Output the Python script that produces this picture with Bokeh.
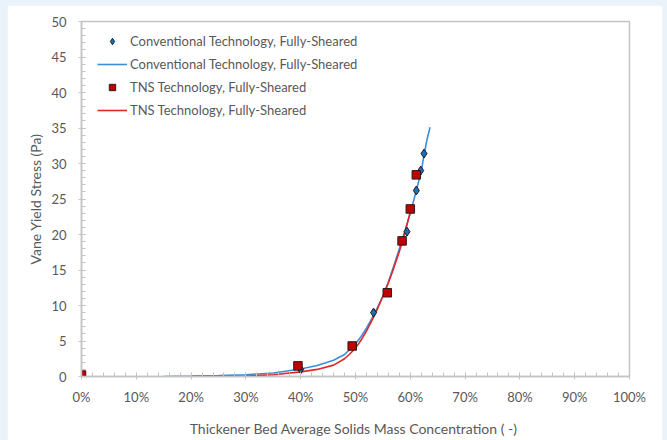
from bokeh.plotting import figure
from bokeh.layouts import column
from bokeh.models import (Range1d, SingleIntervalTicker, NumeralTickFormatter,
                          Legend, LegendItem)
from bokeh.embed import file_html
from bokeh.resources import INLINE

# Measured data points
conv_x = [0.0, 0.400, 0.533, 0.594, 0.611, 0.619, 0.625]
conv_y = [0.0, 1.0, 9.0, 20.4, 26.2, 29.0, 31.4]

tns_x = [0.0, 0.395, 0.494, 0.558, 0.585, 0.600, 0.611]
tns_y = [0.2, 1.5, 4.3, 11.8, 19.1, 23.6, 28.4]

# Fitted curves
conv_fit_x = [0.15, 0.20, 0.25, 0.30, 0.35, 0.40, 0.43, 0.46, 0.48, 0.50, 0.51,
              0.52, 0.53, 0.54, 0.55, 0.56, 0.57, 0.58, 0.59, 0.60, 0.61, 0.62,
              0.625, 0.63, 0.636]
conv_fit_y = [0.0, 0.05, 0.12, 0.25, 0.5, 1.05, 1.55, 2.3, 3.1, 4.6, 5.6,
              6.8, 8.2, 9.7, 11.3, 13.3, 15.6, 18.0, 20.5, 23.0, 25.9, 28.9,
              31.2, 33.2, 35.1]

tns_fit_x = [0.20, 0.30, 0.35, 0.40, 0.43, 0.46, 0.48, 0.49, 0.50, 0.51, 0.52,
             0.53, 0.54, 0.55, 0.56, 0.57, 0.58, 0.59, 0.60, 0.603]
tns_fit_y = [0.0, 0.08, 0.25, 0.65, 1.0, 1.6, 2.5, 3.2, 4.0, 5.1, 6.4,
             7.9, 9.5, 11.3, 13.2, 15.3, 17.6, 20.2, 23.2, 24.0]

labels = ["Conventional Technology, Fully-Sheared",
          "Conventional Technology, Fully-Sheared",
          "TNS Technology, Fully-Sheared",
          "TNS Technology, Fully-Sheared"]

x_title = "Thickener Bed Average Solids Mass Concentration (  -)"
y_title = "Vane Yield Stress (Pa)"

FONT = "Lato"
GRAY = "#595959"
AXIS = "#c4c4c4"

p = figure(width=655, height=435, output_backend="svg", toolbar_location=None,
           x_range=Range1d(0, 1), y_range=Range1d(0, 50),
           min_border_left=74, min_border_right=33,
           min_border_top=16, min_border_bottom=64)
p.margin = (5, 5, 0, 7)
p.background_fill_color = "white"
p.border_fill_color = "white"
p.outline_line_color = AXIS
p.outline_line_width = 1.5
p.xgrid.visible = False
p.ygrid.visible = False

p.xaxis.ticker = SingleIntervalTicker(interval=0.1, num_minor_ticks=5)
p.xaxis.formatter = NumeralTickFormatter(format="0%")
p.yaxis.ticker = SingleIntervalTicker(interval=5, num_minor_ticks=5)

for ax in (p.xaxis[0], p.yaxis[0]):
    ax.axis_line_color = AXIS
    ax.axis_line_width = 1.5
    ax.major_tick_line_color = AXIS
    ax.minor_tick_line_color = AXIS
    ax.major_tick_in = 4
    ax.major_tick_out = 3
    ax.minor_tick_in = 4
    ax.minor_tick_out = 0
    ax.major_label_text_font = FONT
    ax.major_label_text_font_size = "13px"
    ax.major_label_text_color = GRAY
    ax.axis_label_text_font = FONT
    ax.axis_label_text_font_size = "14px"
    ax.axis_label_text_color = GRAY
    ax.axis_label_text_font_style = "normal"

p.xaxis.axis_label = x_title
p.yaxis.axis_label = y_title
p.xaxis.major_label_standoff = 9
p.xaxis.axis_label_standoff = 12
p.yaxis.major_label_standoff = 12
p.yaxis.axis_label_standoff = 4

l_conv = p.line(conv_fit_x, conv_fit_y, line_color="#3a8ed6", line_width=1.6)
l_tns = p.line(tns_fit_x, tns_fit_y, line_color="#e0282a", line_width=1.6)
s_conv = p.scatter(conv_x, conv_y, marker="diamond", size=9,
                   fill_color="#1f6fbf", line_color="#1a1a1a", line_width=1)
s_tns = p.scatter(tns_x, tns_y, marker="square", size=8.5,
                  fill_color="#c00000", line_color="#2a1a1a", line_width=1)

legend = Legend(items=[
    LegendItem(label=labels[0], renderers=[s_conv]),
    LegendItem(label=labels[1], renderers=[l_conv]),
    LegendItem(label=labels[2], renderers=[s_tns]),
    LegendItem(label=labels[3], renderers=[l_tns]),
])
legend.location = (16, 258)
legend.padding = 0
legend.margin = 0
legend.spacing = 7
legend.glyph_width = 30
legend.glyph_height = 16
legend.label_height = 16
legend.label_standoff = 3
legend.border_line_color = None
legend.background_fill_alpha = 0
legend.label_text_font = FONT
legend.label_text_font_size = "13px"
legend.label_text_color = GRAY
p.add_layout(legend, "center")

page = column(p, styles={"background-color": "#eaf2fa"})

open("out.html", "w").write(file_html(page, INLINE))
